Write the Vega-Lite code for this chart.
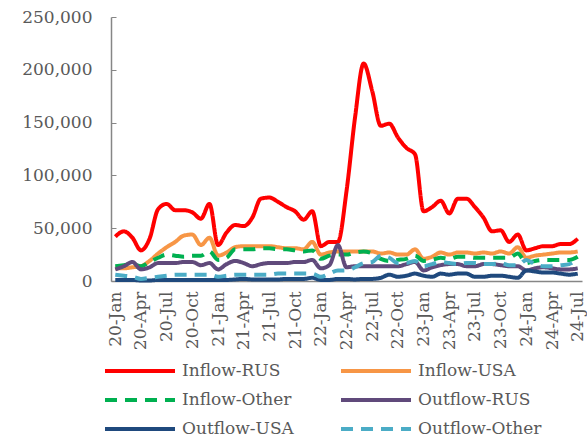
{
  "$schema": "https://vega.github.io/schema/vega-lite/v6.json",
  "width": 471,
  "height": 264,
  "autosize": "none",
  "padding": {"left": 111, "top": 17, "right": 5, "bottom": 160},
  "background": "white",
  "config": {
    "view": {"stroke": null},
    "font": "DejaVu Serif",
    "axis": {"labelFont": "DejaVu Serif", "labelFontSize": 17, "labelColor": "#595959", "domainColor": "#868686", "domainWidth": 1.5, "tickColor": "#868686", "grid": false, "title": null},
    "legend": {"labelFont": "DejaVu Serif", "labelFontSize": 17, "labelColor": "#595959"}
  },
  "data": {"values": [
    {"month":"20-Jan","Inflow-RUS":42000,"Inflow-USA":12000,"Inflow-Other":14000,"Outflow-RUS":11000,"Outflow-USA":1000,"Outflow-Other":6000},
    {"month":"20-Feb","Inflow-RUS":47000,"Inflow-USA":12000,"Inflow-Other":15000,"Outflow-RUS":14000,"Outflow-USA":1000,"Outflow-Other":5000},
    {"month":"20-Mar","Inflow-RUS":41000,"Inflow-USA":13000,"Inflow-Other":16000,"Outflow-RUS":18000,"Outflow-USA":1000,"Outflow-Other":4000},
    {"month":"20-Apr","Inflow-RUS":29000,"Inflow-USA":14000,"Inflow-Other":14000,"Outflow-RUS":11000,"Outflow-USA":500,"Outflow-Other":2000},
    {"month":"20-May","Inflow-RUS":40000,"Inflow-USA":19000,"Inflow-Other":18000,"Outflow-RUS":13000,"Outflow-USA":500,"Outflow-Other":3000},
    {"month":"20-Jun","Inflow-RUS":68000,"Inflow-USA":26000,"Inflow-Other":22000,"Outflow-RUS":17000,"Outflow-USA":1000,"Outflow-Other":4000},
    {"month":"20-Jul","Inflow-RUS":73000,"Inflow-USA":32000,"Inflow-Other":25000,"Outflow-RUS":17000,"Outflow-USA":1000,"Outflow-Other":5000},
    {"month":"20-Aug","Inflow-RUS":67000,"Inflow-USA":37000,"Inflow-Other":24000,"Outflow-RUS":17000,"Outflow-USA":1000,"Outflow-Other":6000},
    {"month":"20-Sep","Inflow-RUS":67000,"Inflow-USA":43000,"Inflow-Other":23000,"Outflow-RUS":18000,"Outflow-USA":1000,"Outflow-Other":6000},
    {"month":"20-Oct","Inflow-RUS":65000,"Inflow-USA":44000,"Inflow-Other":24000,"Outflow-RUS":18000,"Outflow-USA":1000,"Outflow-Other":6000},
    {"month":"20-Nov","Inflow-RUS":59000,"Inflow-USA":34000,"Inflow-Other":24000,"Outflow-RUS":15000,"Outflow-USA":1000,"Outflow-Other":6000},
    {"month":"20-Dec","Inflow-RUS":73000,"Inflow-USA":41000,"Inflow-Other":28000,"Outflow-RUS":17000,"Outflow-USA":1000,"Outflow-Other":6000},
    {"month":"21-Jan","Inflow-RUS":34000,"Inflow-USA":24000,"Inflow-Other":20000,"Outflow-RUS":11000,"Outflow-USA":1000,"Outflow-Other":4000},
    {"month":"21-Feb","Inflow-RUS":46000,"Inflow-USA":27000,"Inflow-Other":22000,"Outflow-RUS":16000,"Outflow-USA":1000,"Outflow-Other":5000},
    {"month":"21-Mar","Inflow-RUS":53000,"Inflow-USA":32000,"Inflow-Other":30000,"Outflow-RUS":19000,"Outflow-USA":1500,"Outflow-Other":6000},
    {"month":"21-Apr","Inflow-RUS":52000,"Inflow-USA":33000,"Inflow-Other":30000,"Outflow-RUS":17000,"Outflow-USA":2000,"Outflow-Other":6000},
    {"month":"21-May","Inflow-RUS":60000,"Inflow-USA":33000,"Inflow-Other":30000,"Outflow-RUS":14000,"Outflow-USA":1500,"Outflow-Other":6000},
    {"month":"21-Jun","Inflow-RUS":78000,"Inflow-USA":33000,"Inflow-Other":31000,"Outflow-RUS":16000,"Outflow-USA":1500,"Outflow-Other":6000},
    {"month":"21-Jul","Inflow-RUS":79000,"Inflow-USA":33000,"Inflow-Other":31000,"Outflow-RUS":17000,"Outflow-USA":1500,"Outflow-Other":6000},
    {"month":"21-Aug","Inflow-RUS":75000,"Inflow-USA":32000,"Inflow-Other":30000,"Outflow-RUS":17000,"Outflow-USA":1500,"Outflow-Other":7000},
    {"month":"21-Sep","Inflow-RUS":70000,"Inflow-USA":31000,"Inflow-Other":30000,"Outflow-RUS":17000,"Outflow-USA":2000,"Outflow-Other":7000},
    {"month":"21-Oct","Inflow-RUS":66000,"Inflow-USA":31000,"Inflow-Other":29000,"Outflow-RUS":18000,"Outflow-USA":2000,"Outflow-Other":7000},
    {"month":"21-Nov","Inflow-RUS":58000,"Inflow-USA":30000,"Inflow-Other":28000,"Outflow-RUS":18000,"Outflow-USA":2000,"Outflow-Other":7000},
    {"month":"21-Dec","Inflow-RUS":66000,"Inflow-USA":37000,"Inflow-Other":29000,"Outflow-RUS":20000,"Outflow-USA":3000,"Outflow-Other":7000},
    {"month":"22-Jan","Inflow-RUS":33000,"Inflow-USA":25000,"Inflow-Other":21000,"Outflow-RUS":12000,"Outflow-USA":1000,"Outflow-Other":4000},
    {"month":"22-Feb","Inflow-RUS":37000,"Inflow-USA":27000,"Inflow-Other":24000,"Outflow-RUS":15000,"Outflow-USA":1000,"Outflow-Other":7000},
    {"month":"22-Mar","Inflow-RUS":37000,"Inflow-USA":28000,"Inflow-Other":25000,"Outflow-RUS":34000,"Outflow-USA":2000,"Outflow-Other":10000},
    {"month":"22-Apr","Inflow-RUS":85000,"Inflow-USA":28000,"Inflow-Other":25000,"Outflow-RUS":13000,"Outflow-USA":2000,"Outflow-Other":10000},
    {"month":"22-May","Inflow-RUS":155000,"Inflow-USA":28000,"Inflow-Other":27000,"Outflow-RUS":14000,"Outflow-USA":1500,"Outflow-Other":13000},
    {"month":"22-Jun","Inflow-RUS":206000,"Inflow-USA":28000,"Inflow-Other":28000,"Outflow-RUS":14000,"Outflow-USA":2000,"Outflow-Other":17000},
    {"month":"22-Jul","Inflow-RUS":180000,"Inflow-USA":28000,"Inflow-Other":26000,"Outflow-RUS":14000,"Outflow-USA":2000,"Outflow-Other":18000},
    {"month":"22-Aug","Inflow-RUS":147000,"Inflow-USA":26000,"Inflow-Other":21000,"Outflow-RUS":14000,"Outflow-USA":3000,"Outflow-Other":24000},
    {"month":"22-Sep","Inflow-RUS":149000,"Inflow-USA":27000,"Inflow-Other":19000,"Outflow-RUS":14000,"Outflow-USA":6000,"Outflow-Other":22000},
    {"month":"22-Oct","Inflow-RUS":136000,"Inflow-USA":25000,"Inflow-Other":20000,"Outflow-RUS":14000,"Outflow-USA":4000,"Outflow-Other":17000},
    {"month":"22-Nov","Inflow-RUS":126000,"Inflow-USA":25000,"Inflow-Other":21000,"Outflow-RUS":16000,"Outflow-USA":5000,"Outflow-Other":17000},
    {"month":"22-Dec","Inflow-RUS":120000,"Inflow-USA":30000,"Inflow-Other":24000,"Outflow-RUS":18000,"Outflow-USA":7000,"Outflow-Other":19000},
    {"month":"23-Jan","Inflow-RUS":66000,"Inflow-USA":21000,"Inflow-Other":19000,"Outflow-RUS":10000,"Outflow-USA":5000,"Outflow-Other":14000},
    {"month":"23-Feb","Inflow-RUS":70000,"Inflow-USA":23000,"Inflow-Other":20000,"Outflow-RUS":13000,"Outflow-USA":4000,"Outflow-Other":16000},
    {"month":"23-Mar","Inflow-RUS":76000,"Inflow-USA":27000,"Inflow-Other":22000,"Outflow-RUS":15000,"Outflow-USA":7000,"Outflow-Other":18000},
    {"month":"23-Apr","Inflow-RUS":64000,"Inflow-USA":25000,"Inflow-Other":21000,"Outflow-RUS":16000,"Outflow-USA":6000,"Outflow-Other":17000},
    {"month":"23-May","Inflow-RUS":78000,"Inflow-USA":27000,"Inflow-Other":23000,"Outflow-RUS":16000,"Outflow-USA":7000,"Outflow-Other":16000},
    {"month":"23-Jun","Inflow-RUS":78000,"Inflow-USA":27000,"Inflow-Other":23000,"Outflow-RUS":14000,"Outflow-USA":7000,"Outflow-Other":17000},
    {"month":"23-Jul","Inflow-RUS":70000,"Inflow-USA":26000,"Inflow-Other":22000,"Outflow-RUS":14000,"Outflow-USA":4000,"Outflow-Other":17000},
    {"month":"23-Aug","Inflow-RUS":60000,"Inflow-USA":27000,"Inflow-Other":22000,"Outflow-RUS":16000,"Outflow-USA":4000,"Outflow-Other":16000},
    {"month":"23-Sep","Inflow-RUS":47000,"Inflow-USA":26000,"Inflow-Other":22000,"Outflow-RUS":16000,"Outflow-USA":5000,"Outflow-Other":16000},
    {"month":"23-Oct","Inflow-RUS":48000,"Inflow-USA":28000,"Inflow-Other":22000,"Outflow-RUS":15000,"Outflow-USA":5000,"Outflow-Other":17000},
    {"month":"23-Nov","Inflow-RUS":37000,"Inflow-USA":26000,"Inflow-Other":22000,"Outflow-RUS":14000,"Outflow-USA":4000,"Outflow-Other":15000},
    {"month":"23-Dec","Inflow-RUS":44000,"Inflow-USA":32000,"Inflow-Other":26000,"Outflow-RUS":14000,"Outflow-USA":3000,"Outflow-Other":15000},
    {"month":"24-Jan","Inflow-RUS":29000,"Inflow-USA":22000,"Inflow-Other":17000,"Outflow-RUS":10000,"Outflow-USA":10000,"Outflow-Other":20000},
    {"month":"24-Feb","Inflow-RUS":31000,"Inflow-USA":24000,"Inflow-Other":19000,"Outflow-RUS":12000,"Outflow-USA":9000,"Outflow-Other":16000},
    {"month":"24-Mar","Inflow-RUS":33000,"Inflow-USA":25000,"Inflow-Other":20000,"Outflow-RUS":13000,"Outflow-USA":8000,"Outflow-Other":14000},
    {"month":"24-Apr","Inflow-RUS":33000,"Inflow-USA":26000,"Inflow-Other":20000,"Outflow-RUS":12000,"Outflow-USA":8000,"Outflow-Other":14000},
    {"month":"24-May","Inflow-RUS":35000,"Inflow-USA":27000,"Inflow-Other":20000,"Outflow-RUS":11000,"Outflow-USA":7000,"Outflow-Other":15000},
    {"month":"24-Jun","Inflow-RUS":35000,"Inflow-USA":27000,"Inflow-Other":20000,"Outflow-RUS":11000,"Outflow-USA":6000,"Outflow-Other":16000},
    {"month":"24-Jul","Inflow-RUS":40000,"Inflow-USA":28000,"Inflow-Other":23000,"Outflow-RUS":12000,"Outflow-USA":7000,"Outflow-Other":21000}
  ]},
  "transform": [
    {"fold": ["Inflow-RUS","Inflow-USA","Inflow-Other","Outflow-RUS","Outflow-USA","Outflow-Other"], "as": ["series","value"]}
  ],
  "mark": {"type": "line", "interpolate": "monotone", "strokeWidth": 4},
  "encoding": {
    "x": {
      "field": "month", "type": "nominal", "sort": null,
      "scale": {"type": "point", "padding": 0.5},
      "axis": {"labelAngle": -90, "ticks": false, "labelPadding": 10, "values": ["20-Jan","20-Apr","20-Jul","20-Oct","21-Jan","21-Apr","21-Jul","21-Oct","22-Jan","22-Apr","22-Jul","22-Oct","23-Jan","23-Apr","23-Jul","23-Oct","24-Jan","24-Apr","24-Jul"]}
    },
    "y": {
      "field": "value", "type": "quantitative",
      "scale": {"domain": [0, 250000], "nice": false},
      "axis": {"format": ",.0f", "values": [0,50000,100000,150000,200000,250000], "tickSize": -5, "labelPadding": 24}
    },
    "color": {
      "field": "series", "type": "nominal",
      "scale": {"domain": ["Inflow-RUS","Inflow-USA","Inflow-Other","Outflow-RUS","Outflow-USA","Outflow-Other"], "range": ["#FF0000","#F79646","#00B050","#604A7B","#1F497D","#4BACC6"]},
      "legend": {"title": null, "orient": "none", "legendX": -6, "legendY": 342, "direction": "horizontal", "columns": 2, "symbolType": "M-1.2,0H5.8", "symbolSize": 400, "symbolStrokeWidth": 4, "labelOffset": 53, "rowPadding": 9, "columnPadding": 27, "gridAlign": "all"}
    },
    "strokeDash": {
      "field": "series", "type": "nominal",
      "scale": {"domain": ["Inflow-RUS","Inflow-USA","Inflow-Other","Outflow-RUS","Outflow-USA","Outflow-Other"], "range": [[1,0],[1,0],[12,8],[1,0],[1,0],[12,8]]},
      "legend": null
    },
    "order": {"field": "series"}
  }
}
